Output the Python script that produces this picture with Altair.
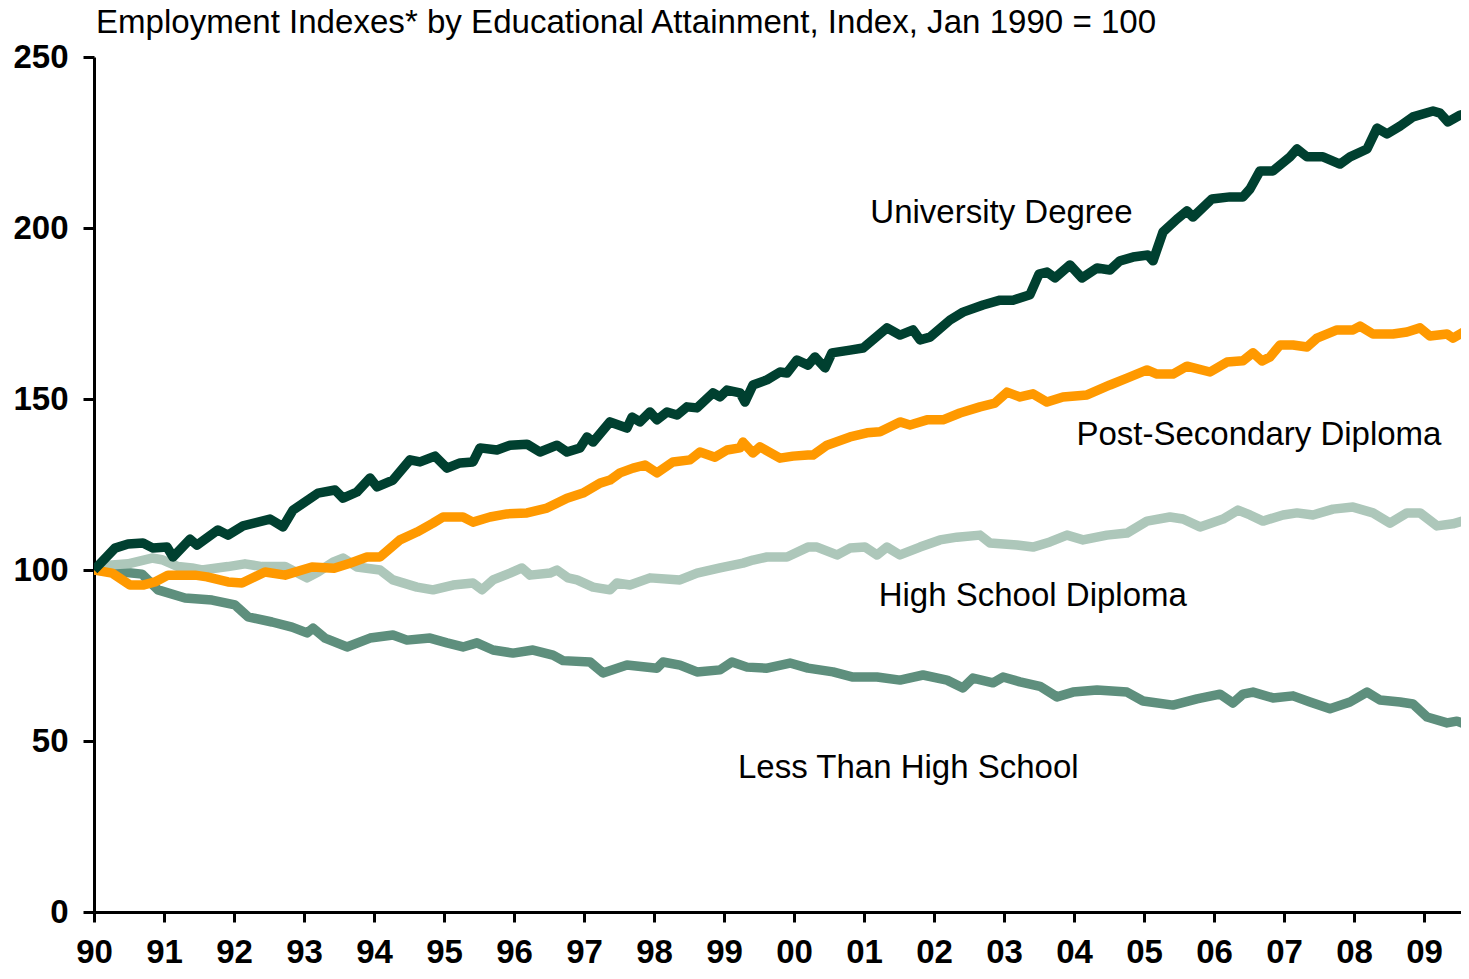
import altair as alt
import pandas as pd

# ---- data (decimal year, index value) ----
UNIV_T = [1990.0, 1990.3, 1990.486, 1990.7, 1990.843, 1991.043, 1991.129, 1991.371, 1991.471, 1991.771, 1991.914,
          1992.129, 1992.514, 1992.7, 1992.843, 1993.2, 1993.443, 1993.557, 1993.757, 1993.943, 1994.043, 1994.271,
          1994.514, 1994.657, 1994.871, 1995.043, 1995.229, 1995.414, 1995.514, 1995.757, 1995.943, 1996.186,
          1996.371, 1996.614, 1996.757, 1996.943, 1997.043, 1997.129, 1997.371, 1997.614, 1997.686, 1997.8,
          1997.943, 1998.043, 1998.186, 1998.329, 1998.471, 1998.614, 1998.843, 1998.943, 1999.043, 1999.229,
          1999.3, 1999.414, 1999.614, 1999.8, 1999.9, 2000.043, 2000.2, 2000.3, 2000.443, 2000.543, 2000.8,
          2000.986, 2001.329, 2001.514, 2001.7, 2001.8, 2001.943, 2002.229, 2002.414, 2002.7, 2002.943, 2003.129,
          2003.371, 2003.5, 2003.614, 2003.729, 2003.943, 2004.114, 2004.329, 2004.514, 2004.657, 2004.843,
          2005.057, 2005.129, 2005.271, 2005.471, 2005.614, 2005.7, 2005.971, 2006.229, 2006.414, 2006.514,
          2006.657, 2006.843, 2007.086, 2007.186, 2007.329, 2007.557, 2007.8, 2007.943, 2008.186, 2008.329,
          2008.471, 2008.657, 2008.843, 2009.129, 2009.229, 2009.343, 2009.514, 2009.643]
UNIV_V = [100, 106.4, 107.6, 107.9, 106.4, 106.7, 103.8, 109.0, 107.3, 111.7, 110.2,
          112.9, 114.9, 112.6, 117.5, 122.5, 123.4, 121.0, 122.8, 126.9, 124.3, 126.3,
          132.2, 131.6, 133.3, 129.8, 131.3, 131.6, 135.7, 135.1, 136.5, 136.8,
          134.5, 136.5, 134.5, 135.7, 138.9, 137.4, 143.3, 141.5, 144.7, 143.3,
          146.2, 143.9, 146.2, 145.3, 147.7, 147.4, 151.8, 150.6, 152.6, 151.8,
          149.1, 154.1, 155.6, 157.9, 157.6, 161.4, 159.9, 162.3, 159.1, 163.5, 164.3,
          164.9, 170.8, 168.7, 170.2, 167.3, 168.1, 173.1, 175.4, 177.5, 178.9, 178.9,
          180.5, 186.5, 187.1, 185.4, 189.2, 185.4, 188.3, 187.7, 190.4, 191.5,
          192.1, 190.4, 198.8, 202.6, 205.0, 203.2, 208.5, 209.1, 209.1, 211.4,
          216.7, 216.7, 220.8, 223.1, 220.8, 220.8, 218.7, 220.8, 223.1, 229.2,
          227.5, 229.8, 232.5, 234.2, 233.6, 231.0, 233.0, 233.5]

POST_T = [1990.0, 1990.257, 1990.514, 1990.7, 1990.871, 1991.057, 1991.443, 1991.614, 1991.914, 1992.114,
          1992.443, 1992.729, 1993.114, 1993.43, 1993.657, 1993.9, 1994.086, 1994.371, 1994.614, 1994.843,
          1994.986, 1995.271, 1995.414, 1995.657, 1995.9, 1996.186, 1996.471, 1996.757, 1996.986, 1997.229,
          1997.371, 1997.514, 1997.7, 1997.871, 1998.043, 1998.271, 1998.514, 1998.657, 1998.871, 1999.043,
          1999.229, 1999.271, 1999.414, 1999.514, 1999.8, 1999.986, 2000.2, 2000.271, 2000.471, 2000.8,
          2001.043, 2001.229, 2001.514, 2001.657, 2001.9, 2002.129, 2002.371, 2002.657, 2002.871, 2003.043,
          2003.229, 2003.414, 2003.614, 2003.843, 2004.186, 2004.514, 2004.757, 2005.043, 2005.186, 2005.414,
          2005.614, 2005.943, 2006.186, 2006.414, 2006.557, 2006.686, 2006.8, 2006.943, 2007.129, 2007.329,
          2007.471, 2007.757, 2007.986, 2008.086, 2008.271, 2008.557, 2008.757, 2008.943, 2009.086, 2009.329,
          2009.414, 2009.643]
POST_V = [100, 99.1, 95.6, 95.6, 96.5, 98.5, 98.5, 98.0, 96.5, 96.2,
          99.4, 98.5, 100.9, 100.5, 102.0, 103.8, 103.8, 108.8, 111.1, 113.7,
          115.5, 115.5, 114.0, 115.5, 116.4, 116.7, 118.1, 121.0, 122.5, 125.4,
          126.3, 128.4, 129.8, 130.7, 128.4, 131.6, 132.2, 134.5, 133.0, 135.1,
          135.7, 137.4, 134.2, 136.0, 132.7, 133.3, 133.6, 133.6, 136.5, 138.9,
          140.1, 140.4, 143.3, 142.4, 143.9, 143.9, 145.9, 147.7, 148.8, 152.0,
          150.6, 151.5, 149.1, 150.6, 151.2, 154.1, 156.1, 158.5, 157.3, 157.3,
          159.6, 157.9, 160.8, 161.2, 163.5, 161.1, 162.3, 165.8, 165.8, 165.2,
          167.8, 170.2, 170.2, 171.3, 169.0, 169.0, 169.6, 170.8, 168.4, 169.0,
          167.8, 170.5]

HS_T = [1990.0, 1990.257, 1990.486, 1990.829, 1990.971, 1991.2, 1991.4, 1991.543, 1991.914, 1992.157,
        1992.4, 1992.729, 1993.043, 1993.2, 1993.414, 1993.557, 1993.757, 1994.086, 1994.271, 1994.614,
        1994.843, 1995.129, 1995.414, 1995.543, 1995.7, 1995.943, 1996.114, 1996.229, 1996.514, 1996.614,
        1996.771, 1996.9, 1997.129, 1997.371, 1997.471, 1997.657, 1997.943, 1998.371, 1998.614, 1998.943,
        1999.271, 1999.414, 1999.614, 1999.9, 2000.2, 2000.329, 2000.614, 2000.8, 2001.014, 2001.186,
        2001.329, 2001.514, 2001.8, 2002.086, 2002.329, 2002.657, 2002.8, 2003.186, 2003.414, 2003.657,
        2003.9, 2004.129, 2004.471, 2004.757, 2005.043, 2005.371, 2005.557, 2005.8, 2006.129, 2006.343,
        2006.514, 2006.7, 2006.986, 2007.186, 2007.414, 2007.7, 2007.986, 2008.271, 2008.514, 2008.757,
        2008.943, 2009.186, 2009.414, 2009.643]
HS_V = [100, 101.5, 101.8, 103.5, 103.0, 101.0, 100.6, 100.0, 101.0, 101.8,
        101.0, 101.0, 97.7, 99.4, 102.3, 103.5, 100.9, 100.0, 97.1, 95.0,
        94.2, 95.6, 96.2, 94.2, 97.1, 99.1, 100.6, 98.5, 99.1, 100.0,
        97.7, 97.1, 95.0, 94.2, 96.2, 95.6, 97.7, 97.1, 99.1, 100.6,
        102.0, 102.9, 103.8, 103.8, 106.7, 106.7, 104.4, 106.4, 106.7, 104.4,
        106.7, 104.4, 106.7, 108.8, 109.6, 110.2, 107.9, 107.3, 106.7, 108.2,
        110.2, 108.8, 110.2, 110.8, 114.3, 115.5, 114.9, 112.6, 114.9, 117.5,
        116.1, 114.3, 116.1, 116.7, 116.1, 117.8, 118.4, 116.7, 113.7, 116.7,
        116.7, 112.9, 113.5, 114.9]

LTHS_T = [1990.0, 1990.4, 1990.686, 1990.914, 1991.3, 1991.686, 1992.014, 1992.2, 1992.543, 1992.829,
          1993.043, 1993.129, 1993.3, 1993.614, 1993.943, 1994.271, 1994.471, 1994.8, 1995.043, 1995.271,
          1995.471, 1995.7, 1995.986, 1996.271, 1996.557, 1996.7, 1997.086, 1997.271, 1997.614, 1998.043,
          1998.129, 1998.371, 1998.614, 1998.943, 1999.114, 1999.329, 1999.614, 1999.943, 2000.2, 2000.557,
          2000.843, 2001.186, 2001.514, 2001.843, 2002.186, 2002.414, 2002.557, 2002.843, 2002.986, 2003.229,
          2003.514, 2003.757, 2003.986, 2004.329, 2004.757, 2004.986, 2005.414, 2005.757, 2006.086, 2006.271,
          2006.414, 2006.557, 2006.843, 2007.129, 2007.371, 2007.657, 2007.943, 2008.186, 2008.371, 2008.657,
          2008.843, 2009.043, 2009.329, 2009.471, 2009.643]
LTHS_V = [100, 99.4, 98.8, 94.2, 91.8, 91.2, 89.8, 86.3, 84.8, 83.3,
          81.6, 83.0, 80.1, 77.5, 80.1, 81.0, 79.5, 80.1, 78.7, 77.5,
          78.7, 76.6, 75.7, 76.6, 75.1, 73.5, 73.1, 69.9, 72.2, 71.3,
          73.1, 72.2, 70.2, 70.8, 73.1, 71.6, 71.3, 72.8, 71.3, 70.2,
          68.7, 68.7, 67.8, 69.3, 67.8, 65.5, 68.4, 67.0, 68.7, 67.3,
          66.0, 62.9, 64.3, 64.9, 64.3, 61.7, 60.5, 62.3, 63.7, 61.1,
          63.7, 64.3, 62.6, 63.2, 61.4, 59.4, 61.4, 64.3, 62.0, 61.4,
          60.8, 57.0, 55.3, 55.8, 54.5]

SERIES = ["Less Than High School", "High School Diploma", "Post-Secondary Diploma", "University Degree"]
COLORS = ["#5E8F7D", "#ADC7BA", "#FF9900", "#004030"]

LABELS = ["University Degree", "Post-Secondary Diploma", "High School Diploma", "Less Than High School"]
LABEL_T = [2001.09, 2004.035, 2001.21, 1999.2]
LABEL_V = [204.5, 139.6, 92.5, 42.2]

TITLE = "Employment Indexes* by Educational Attainment, Index, Jan 1990 = 100"
X_TICKS = list(range(1990, 2010))
Y_TICKS = [0, 50, 100, 150, 200, 250]
X_MAX = 2009.5286

FONT = "Liberation Sans"

series_data = {
    "Less Than High School": (LTHS_T, LTHS_V),
    "High School Diploma": (HS_T, HS_V),
    "Post-Secondary Diploma": (POST_T, POST_V),
    "University Degree": (UNIV_T, UNIV_V),
}

x_scale = alt.Scale(domain=[1990, X_MAX], nice=False, zero=False)
y_scale = alt.Scale(domain=[0, 250], nice=False)

x_axis = alt.Axis(values=X_TICKS, title=None, grid=False,
                  labelExpr="(datum.value % 100 < 10 ? '0' : '') + (datum.value % 100)",
                  tickSize=10, tickWidth=3, tickColor="black", domainColor="black", domainWidth=3,
                  labelFont=FONT, labelFontSize=33, labelFontWeight="bold", labelColor="black",
                  labelPadding=14, labelFlush=False, labelOverlap=False)
y_axis = alt.Axis(values=Y_TICKS, title=None, grid=False,
                  tickSize=11, tickWidth=3, tickColor="black", domainColor="black", domainWidth=3,
                  labelFont=FONT, labelFontSize=33, labelFontWeight="bold", labelColor="black",
                  labelPadding=15, labelFlush=False, labelOverlap=False)

layers = []
for name, color in zip(SERIES, COLORS):
    t, v = series_data[name]
    df = pd.DataFrame({"t": t, "v": v, "series": name})
    layers.append(
        alt.Chart(df).mark_line(color=color, strokeWidth=9.5, strokeJoin="round", clip=True).encode(
            x=alt.X("t:Q", scale=x_scale, axis=x_axis),
            y=alt.Y("v:Q", scale=y_scale, axis=y_axis),
        )
    )

lab_df = pd.DataFrame({"label": LABELS, "t": LABEL_T, "v": LABEL_V})
labels = alt.Chart(lab_df).mark_text(align="left", baseline="middle", font=FONT, fontSize=33,
                                      color="black").encode(
    x=alt.X("t:Q", scale=x_scale, axis=x_axis),
    y=alt.Y("v:Q", scale=y_scale, axis=y_axis),
    text="label:N",
)

title = alt.Chart(pd.DataFrame({"txt": [TITLE]})).mark_text(
    align="left", baseline="middle", font=FONT, fontSize=33.1, color="black"
).encode(x=alt.value(2), y=alt.value(-34), text="txt:N")

chart = alt.layer(*layers, labels, title).properties(
    width=1367, height=855,
    padding={"left": 86, "top": 49, "right": 0, "bottom": 54},
    autosize=alt.AutoSizeParams(type="none"),
).configure_view(stroke=None)

chart.save("out.html", embed_options={"renderer": "svg", "actions": False})
